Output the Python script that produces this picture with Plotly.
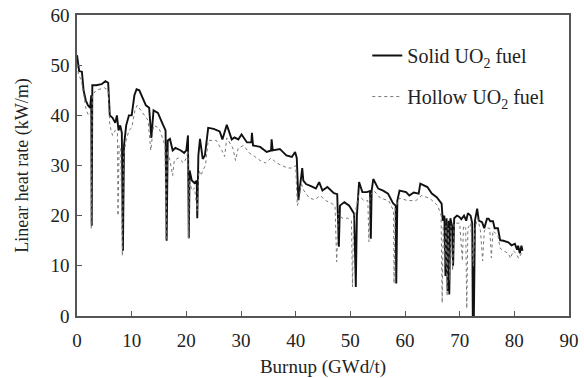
import plotly.graph_objects as go

solid_x = [0, 0.2, 0.4, 0.9, 1.2, 1.6, 2.0, 2.4, 2.6, 2.7, 2.8, 3.5, 4.5, 5.2, 5.7, 6.0, 6.5, 7.0, 7.3, 7.6,
           7.9, 8.2, 8.4, 8.6, 9.0, 9.5, 10.0, 10.5, 10.9, 11.4, 12.0, 12.6, 13.2, 13.6, 14.0, 14.8, 15.5, 16.2, 16.4, 16.6,
           17.0, 17.5, 18.0, 19.0, 19.6, 20.0, 20.3, 20.45, 20.6, 21.0, 21.5, 21.9, 22.0, 22.2, 22.5, 23.0, 23.4, 24.0, 25.0, 26.1,
           26.6, 27.4, 28.3, 28.8, 29.5, 30.1, 31.1, 31.9, 32.0, 32.2, 33.5, 34.7, 35.5, 35.6, 35.8, 37.1, 38.3, 39.3, 39.9, 40.2,
           40.5, 40.8, 41.2, 41.4, 41.9, 43.0, 43.7, 44.3, 44.9, 45.8, 47.0, 47.6, 47.9, 48.1, 48.9, 49.8, 50.7, 51.0, 51.2, 51.6,
           52.2, 53.0, 53.6, 53.75, 53.9, 54.2, 55.1, 56.0, 56.9, 57.8, 58.3, 58.4, 58.6, 59.0, 60.2, 60.8, 61.6, 62.5, 62.8, 64.1,
           64.9, 65.8, 66.7, 66.9, 67.2, 67.4, 67.6, 67.8, 68.0, 68.1, 68.3, 68.6, 68.8, 69.0, 69.5, 69.9, 70.3, 70.8, 71.2, 71.5,
           72.0, 72.3, 72.4, 72.6, 72.8, 73.2, 73.5, 74.1, 74.5, 75.0, 75.3, 75.6, 76.1, 76.4, 77.0, 77.4, 78.0, 78.9, 79.5, 80.1,
           80.5, 80.7, 81.0, 81.3, 81.5]
solid_y = [52, 50, 48.8, 48.7, 45, 43, 42, 41.5, 44, 18, 46, 46, 46.2, 46.8, 46.5, 40, 39.5, 38.5, 40, 37,
           38, 36.5, 13, 34, 38, 40, 40, 44, 45.2, 45, 43.5, 42, 41.5, 35.5, 41, 40.5, 38.7, 37, 15, 35,
           35.3, 33, 33.5, 33, 32.5, 33, 36, 15.5, 29, 27, 26.5, 27, 19.5, 32, 35.3, 31.3, 32, 37.5, 37.3, 36.8,
           35.2, 38.1, 35.2, 35.6, 35.2, 36.2, 34.6, 34.6, 36.5, 34, 33.7, 32.7, 33, 35.2, 33, 33.3, 32, 31.7, 32.7, 31.5,
           23.1, 26, 29.5, 27, 26.3, 25.8, 25.4, 26.7, 25, 25.7, 24.5, 24.3, 13.8, 22, 22.7, 22, 20.4, 5.8, 20, 26.7,
           24.7, 24.7, 24.9, 15.4, 25, 27.3, 25.4, 25, 24.4, 22.5, 22, 6.5, 23, 25, 24.7, 24, 24.6, 24.4, 26.4, 25.7,
           24.4, 23.7, 22.4, 19, 20, 8, 19.5, 5, 19, 4.3, 19.5, 18, 10, 19.5, 20, 19.8, 19.3, 20, 19, 20.5,
           20, 18.5, 0, 0, 19, 21.4, 19, 18.7, 17.5, 19.4, 19.4, 18.9, 18.9, 17.5, 17.5, 15.1, 15, 14.7, 14.1, 14.4,
           13.2, 14, 12.5, 14, 13]

hollow_x = [0, 0.3, 0.8, 1.2, 1.7, 2.1, 2.5, 2.6, 2.8, 3.5, 5.0, 5.7, 6.0, 6.5, 7.0, 7.4, 7.5, 7.7, 8.0, 8.3,
            8.5, 9.0, 9.5, 10.0, 10.6, 11.0, 12.0, 13.0, 13.5, 14.0, 15.0, 15.5, 16.1, 16.3, 16.5, 17.0, 17.5, 17.8, 18.5, 19.5,
            20.0, 20.3, 20.4, 20.6, 21.0, 21.5, 22.0, 22.3, 22.7, 23.0, 23.5, 24.0, 25.5, 26.5, 27.0, 27.4, 28.5, 29.0, 29.5, 30.5,
            31.5, 32.5, 33.5, 34.5, 35.5, 36.5, 37.5, 38.5, 39.5, 40.0, 40.3, 40.6, 41.0, 41.5, 42.5, 43.5, 44.5, 45.5, 46.5, 47.2,
            47.5, 47.8, 48.5, 49.5, 50.2, 50.4, 50.6, 51.5, 52.5, 53.2, 53.4, 53.6, 54.3, 55.5, 57.0, 57.9, 58.0, 58.2, 59.0, 60.5,
            62.0, 63.0, 64.5, 66.0, 66.6, 66.8, 67.0, 67.3, 67.5, 67.7, 67.9, 68.2, 68.4, 68.7, 69.0, 70.0, 70.5, 70.7, 71.1, 71.3,
            71.5, 72.0, 72.5, 72.8, 73.3, 73.8, 74.2, 74.5, 75.0, 75.5, 75.8, 76.1, 77.0, 77.4, 78.0, 78.9, 79.3, 79.8, 80.3, 80.8,
            81.3]
hollow_y = [50, 48, 47, 44, 41, 40, 40.5, 17.5, 44, 45, 45.5, 45, 38, 36, 37, 36.5, 20, 34, 33.5, 12,
            32, 35, 37, 37.5, 41, 42, 40.5, 39, 33, 38, 37.5, 36, 34, 15, 33, 31, 28, 31, 31.5, 30.5,
            31.5, 33, 15.5, 27, 25, 25.5, 21, 29, 28, 29, 30, 35, 35, 33, 31.8, 35.5, 33.5, 31, 33.5, 34,
            32.5, 31.8, 31, 30.5, 31.5, 30.5, 30, 29.5, 29.5, 30, 22, 23, 26.5, 25, 23.5, 23.2, 24, 23, 22.5, 22,
            10.8, 20.5, 19.5, 19.5, 19, 5.8, 19, 24, 23, 23, 14.8, 24, 25, 23.5, 23, 21, 6.5, 21.5, 23.5, 23,
            23, 24, 23.5, 22, 20, 2.6, 18, 10, 18, 4, 17.5, 7, 18, 9, 18.5, 18.5, 11, 18, 17.5, 1.5,
            17.5, 18.5, 10, 17.5, 19.5, 17, 11, 17, 17.5, 17.5, 11.6, 17, 16, 13.5, 13, 12.5, 11.5, 13, 12.5, 11.5,
            12.5]

x_ticks = [0, 10, 20, 30, 40, 50, 60, 70, 80, 90]
y_ticks = [0, 10, 20, 30, 40, 50, 60]

FONT = "Liberation Serif"
TXT = "#222222"

fig = go.Figure()
fig.add_trace(go.Scatter(x=solid_x, y=solid_y, mode="lines", name="Solid UO<sub>2</sub> fuel",
                         line=dict(color="#111111", width=1.9), legendgroup="a"))
fig.add_trace(go.Scatter(x=hollow_x, y=hollow_y, mode="lines", name="Hollow UO<sub>2</sub> fuel",
                         line=dict(color="#777777", width=1, dash="dot"), legendgroup="b"))

axis_common = dict(showline=True, linecolor="#555555", linewidth=1.5, mirror=True,
                   ticks="inside", ticklen=5, tickwidth=1.2, tickcolor="#555555",
                   showgrid=False, zeroline=False, automargin=False,
                   tickfont=dict(family=FONT, size=19, color=TXT))

fig.update_xaxes(range=[0, 90], tickvals=x_ticks, ticklabelstandoff=6,
                 title=dict(text="Burnup (GWd/t)", font=dict(family=FONT, size=19, color=TXT), standoff=11),
                 **axis_common)
fig.update_yaxes(range=[0, 60], tickvals=y_ticks, ticklabelstandoff=2,
                 title=dict(text="Linear heat rate (kW/m)", font=dict(family=FONT, size=18, color=TXT), standoff=17),
                 **axis_common)

fig.update_layout(
    width=584, height=378,
    margin=dict(l=77, r=15, t=15, b=62, autoexpand=False),
    plot_bgcolor="white", paper_bgcolor="white",
    font=dict(family=FONT, size=19, color=TXT),
    legend=dict(x=0.59, y=0.93, xanchor="left", yanchor="top", bgcolor="rgba(0,0,0,0)",
                itemwidth=30, tracegroupgap=12, font=dict(family=FONT, size=20, color=TXT)),
    showlegend=True,
)

fig.write_html("out.html")
